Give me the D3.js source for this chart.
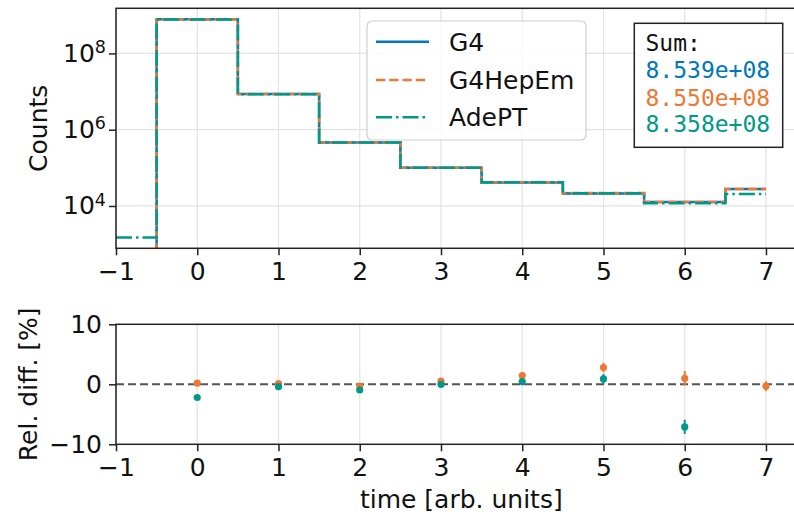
<!DOCTYPE html>
<html>
<head>
<meta charset="utf-8">
<script src="https://cdn.jsdelivr.net/npm/d3@7/dist/d3.min.js"></script>
<style>
  html, body { margin: 0; padding: 0; background: #fff; }
  svg { display: block; }
  text { font-family: "DejaVu Sans", sans-serif; fill: #111; }
</style>
</head>
<body>
<svg id="chart" width="794" height="514"></svg>
<script>
// Time bins (bin centres) and per-bin counts for the three simulations
const timeBins = [-1, 0, 1, 2, 3, 4, 5, 6, 7];
const countsG4      = [0,     7.89e8, 8.60e6, 4.65e5, 1.000e5, 4.14e4, 2.13e4, 1.27e4, 2.78e4];
const countsG4HepEm = [0,     7.90e8, 8.61e6, 4.64e5, 1.005e5, 4.20e4, 2.19e4, 1.28e4, 2.77e4];
const countsAdePT   = [1.5e3, 7.72e8, 8.57e6, 4.60e5, 1.000e5, 4.16e4, 2.15e4, 1.18e4, 2.06e4];

// Relative differences w.r.t. G4 in percent, with statistical errors
const diffBins = [0, 1, 2, 3, 4, 5, 6, 7];
const relG4HepEm = [0.2, 0.1, -0.3, 0.55, 1.45, 2.8, 1.0, -0.3];
const errG4HepEm = [0.05, 0.1, 0.2, 0.4, 0.6, 0.8, 1.2, 0.8];
const relAdePT   = [-2.2, -0.4, -0.95, 0.0, 0.45, 0.9, -7.1, -26];
const errAdePT   = [0.05, 0.1, 0.2, 0.4, 0.6, 0.8, 1.2, 0.8];

const seriesNames = ["G4", "G4HepEm", "AdePT"];
const sumLabels = ["8.539e+08", "8.550e+08", "8.358e+08"];
const xTicks = [-1, 0, 1, 2, 3, 4, 5, 6, 7];
const yTicksLog = [1e4, 1e6, 1e8];
const yTicksDiff = [-10, 0, 10];

const colors = { G4: "#0077BB", G4HepEm: "#EE7733", AdePT: "#009988" };
const FS = 25;

const svg = d3.select("#chart");
const defs = svg.append("defs");

// Panel geometry
const left = 116, right = 806.6;
const top1 = 8.3, bot1 = 248.3;
const top2 = 324.3, bot2 = 444.3;

const x = d3.scaleLinear().domain([-1, 7.5]).range([left, right]);

// Log axis limits with 5% padding in decades
const allPos = [...countsG4, ...countsG4HepEm, ...countsAdePT].filter(v => v > 0);
const lo = Math.log10(d3.min(allPos)), hi = Math.log10(d3.max(allPos));
const pad = 0.05 * (hi - lo);
const y1 = d3.scaleLog().domain([10 ** (lo - pad), 10 ** (hi + pad)]).range([bot1, top1]);
const y2 = d3.scaleLinear().domain([-10, 10]).range([bot2, top2]);

defs.append("clipPath").attr("id", "clip1").append("rect")
  .attr("x", left).attr("y", top1).attr("width", right - left).attr("height", bot1 - top1);
defs.append("clipPath").attr("id", "clip2").append("rect")
  .attr("x", left).attr("y", top2).attr("width", right - left).attr("height", bot2 - top2);

const gridColor = "#e3e3e3";

// ---------- Top panel ----------
const g1 = svg.append("g");
g1.append("g").selectAll("line").data(xTicks).join("line")
  .attr("x1", d => x(d)).attr("x2", d => x(d)).attr("y1", top1).attr("y2", bot1)
  .attr("stroke", gridColor).attr("stroke-width", 1.2);
g1.append("g").selectAll("line").data(yTicksLog).join("line")
  .attr("x1", left).attr("x2", right).attr("y1", d => y1(d)).attr("y2", d => y1(d))
  .attr("stroke", gridColor).attr("stroke-width", 1.2);

const floorVal = y1.domain()[0] / 1e6;
const stepLine = d3.line()
  .x(d => x(d[0]))
  .y(d => y1(d[1] > 0 ? d[1] : floorVal))
  .curve(d3.curveStep);

const series = [
  { name: "G4", values: countsG4, dash: null },
  { name: "G4HepEm", values: countsG4HepEm, dash: "9.25,4" },
  { name: "AdePT", values: countsAdePT, dash: "16,4,2.5,4" }
];

const plot1 = g1.append("g").attr("clip-path", "url(#clip1)");
series.forEach(s => {
  plot1.append("path")
    .datum(timeBins.map((t, i) => [t, s.values[i]]))
    .attr("d", stepLine)
    .attr("fill", "none")
    .attr("stroke", colors[s.name])
    .attr("stroke-width", 2.5)
    .attr("stroke-dasharray", s.dash);
});

// Axes for top panel
const xAxis1 = d3.axisBottom(x).tickValues(xTicks).tickSize(7).tickPadding(7)
  .tickFormat(d => d < 0 ? "\u2212" + Math.abs(d) : d);
const ax1 = g1.append("g").attr("transform", `translate(0,${bot1})`).call(xAxis1);
const yAxis1 = d3.axisLeft(y1).tickValues(yTicksLog).tickSize(7).tickFormat("");
const ay1 = g1.append("g").attr("transform", `translate(${left},0)`).call(yAxis1);

// Superscript labels for the log axis
ay1.selectAll(".tick").each(function (d) {
  const t = d3.select(this).append("text")
    .attr("x", -10).attr("y", 0).attr("dy", "0.32em")
    .attr("text-anchor", "end").style("font-size", FS + "px").attr("fill", "#111");
  t.append("tspan").text("10");
  t.append("tspan").attr("dy", "-0.5em").style("font-size", (FS * 0.7) + "px")
    .text(Math.round(Math.log10(d)));
});

// spines
g1.append("rect").attr("x", left).attr("y", top1).attr("width", right - left).attr("height", bot1 - top1)
  .attr("fill", "none").attr("stroke", "#222").attr("stroke-width", 1.5);

svg.append("text").attr("transform", `translate(38,${(top1 + bot1) / 2}) rotate(-90)`)
  .attr("text-anchor", "middle").attr("dy", "0.35em").style("font-size", FS + "px").text("Counts");

// Legend
const leg = svg.append("g");
leg.append("rect").attr("x", 367).attr("y", 21).attr("width", 219).attr("height", 119)
  .attr("rx", 5).attr("fill", "#fff").attr("fill-opacity", 0.8)
  .attr("stroke", "#cfcfcf").attr("stroke-width", 1.2);
const legRows = [41.7, 80, 117.3];
series.forEach((s, i) => {
  leg.append("line").attr("x1", 376).attr("x2", 429).attr("y1", legRows[i]).attr("y2", legRows[i])
    .attr("stroke", colors[s.name]).attr("stroke-width", 2.5).attr("stroke-dasharray", s.dash);
  leg.append("text").attr("x", 449).attr("y", legRows[i]).attr("dy", "0.36em")
    .style("font-size", FS + "px").text(seriesNames[i]);
});

// Sum box
const sb = svg.append("g");
sb.append("rect").attr("x", 634.3).attr("y", 23.3).attr("width", 148.4).attr("height", 124)
  .attr("fill", "#fff").attr("stroke", "#222").attr("stroke-width", 1.5);
const sumLines = ["Sum:", ...sumLabels];
const sumColors = ["#111", colors.G4, colors.G4HepEm, colors.AdePT];
const sumBase = [51, 78.3, 105.7, 132.3];
sumLines.forEach((t, i) => {
  sb.append("text").attr("x", 645.5).attr("y", sumBase[i])
    .style("font-family", "'DejaVu Sans Mono', monospace").style("font-size", "23px")
    .style("fill", sumColors[i]).text(t);
});

// ---------- Bottom panel ----------
const g2 = svg.append("g");
g2.append("g").selectAll("line").data(xTicks).join("line")
  .attr("x1", d => x(d)).attr("x2", d => x(d)).attr("y1", top2).attr("y2", bot2)
  .attr("stroke", gridColor).attr("stroke-width", 1.2);

const plot2 = g2.append("g").attr("clip-path", "url(#clip2)");
plot2.append("line").attr("x1", left).attr("x2", right).attr("y1", y2(0)).attr("y2", y2(0))
  .attr("stroke", "#555").attr("stroke-width", 2).attr("stroke-dasharray", "8,4");

const diffSeries = [
  { name: "G4HepEm", vals: relG4HepEm, errs: errG4HepEm },
  { name: "AdePT", vals: relAdePT, errs: errAdePT }
];
diffSeries.forEach(s => {
  const pts = diffBins.map((b, i) => ({ b, v: s.vals[i], e: s.errs[i] }));
  plot2.append("g").selectAll("line").data(pts).join("line")
    .attr("x1", d => x(d.b)).attr("x2", d => x(d.b))
    .attr("y1", d => y2(d.v - d.e)).attr("y2", d => y2(d.v + d.e))
    .attr("stroke", colors[s.name]).attr("stroke-width", 2);
  plot2.append("g").selectAll("circle").data(pts).join("circle")
    .attr("cx", d => x(d.b)).attr("cy", d => y2(d.v)).attr("r", 3.6)
    .attr("fill", colors[s.name]);
});

const xAxis2 = d3.axisBottom(x).tickValues(xTicks).tickSize(7).tickPadding(7)
  .tickFormat(d => d < 0 ? "\u2212" + Math.abs(d) : d);
const ax2 = g2.append("g").attr("transform", `translate(0,${bot2})`).call(xAxis2);
const yAxis2 = d3.axisLeft(y2).tickValues(yTicksDiff).tickSize(7).tickPadding(7)
  .tickFormat(d => d < 0 ? "\u2212" + Math.abs(d) : d);
const ay2 = g2.append("g").attr("transform", `translate(${left},0)`).call(yAxis2);

g2.append("rect").attr("x", left).attr("y", top2).attr("width", right - left).attr("height", bot2 - top2)
  .attr("fill", "none").attr("stroke", "#222").attr("stroke-width", 1.5);

svg.append("text").attr("transform", `translate(28,${(top2 + bot2) / 2}) rotate(-90)`)
  .attr("text-anchor", "middle").attr("dy", "0.35em").style("font-size", FS + "px").text("Rel. diff. [%]");
svg.append("text").attr("x", (left + right) / 2).attr("y", 508)
  .attr("text-anchor", "middle").style("font-size", FS + "px").text("time [arb. units]");

// Common axis styling
[ax1, ay1, ax2, ay2].forEach(a => {
  a.select(".domain").remove();
  a.selectAll(".tick line").attr("stroke", "#222").attr("stroke-width", 1.5);
  a.selectAll(".tick text").style("font-size", FS + "px").style("font-family", "'DejaVu Sans', sans-serif").attr("fill", "#111");
});
</script>
</body>
</html>
